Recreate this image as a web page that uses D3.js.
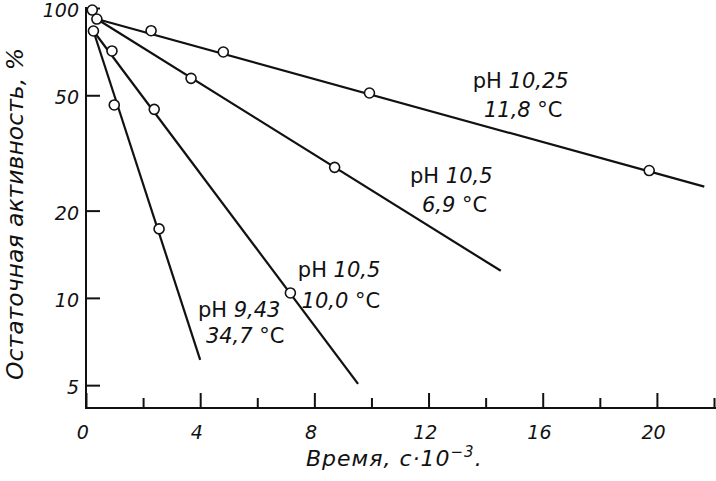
<!DOCTYPE html>
<html><head><meta charset="utf-8">
<script src="https://cdn.jsdelivr.net/npm/d3@7"></script>
<style>
html,body{margin:0;padding:0;background:#fff;}
svg{display:block;}
text{font-family:"DejaVu Sans",sans-serif;fill:#111;}
</style></head><body>
<svg id="chart" width="716" height="481"></svg>
<script>
// ---- data ----
const xTicksMajor = [0, 4, 8, 12, 16, 20];
const xTicksMinor = [2, 6, 10, 14, 18, 22];
const yTicks = [5, 10, 20, 50, 100];

// measured points (time in s*10^-3, residual activity %)
const startPoint = [[0.22, 98.4]];
const pointsA = [[0.38, 91.6], [2.28, 83.5], [4.81, 70.5], [9.93, 50.9], [19.73, 27.5]];
const pointsB = [[3.68, 57.2], [8.71, 28.2]];
const pointsC = [[0.91, 71.1], [2.39, 44.7], [7.16, 10.4]];
const pointsD = [[0.26, 83.3], [0.99, 46.3], [2.56, 17.3]];

// fitted straight lines (start, end)
const lineA = [[0.38, 91.6], [21.66, 24.2]];
const lineB = [[0.38, 91.6], [14.53, 12.4]];
const lineC = [[0.26, 83.3], [9.53, 5.05]];
const lineD = [[0.26, 83.3], [4.0, 6.11]];

// annotations
const labelPH = ["10,25", "10,5", "10,5", "9,43"];
const labelT = ["11,8", "6,9", "10,0", "34,7"];
const labelPos1 = [[13.55, 53.0], [11.35, 24.9], [7.42, 11.8], [3.92, 8.6]];
const labelPos2 = [[13.94, 42.1], [11.77, 19.8], [7.55, 9.24], [4.20, 7.0]];

const yTitle = "Остаточная активность, %";
const xTitle = "Время, с·10";
const xTitleExp = "−3";

// ---- drawing ----
const svg = d3.select("#chart");
const x = d3.scaleLinear().domain([0, 22]).range([86, 714]);
const y = d3.scaleLog().domain([4.17, 100]).range([408, 8]);

const ink = "#111";

// x axis: minor ticks
svg.append("g").attr("transform", "translate(0,408)")
  .call(d3.axisBottom(x).tickValues(xTicksMinor).tickSize(-10).tickSizeOuter(0).tickFormat(""))
  .call(g => g.select(".domain").remove())
  .call(g => g.selectAll("line").attr("stroke", ink).attr("stroke-width", 2));

// x axis: major ticks + labels
svg.append("g").attr("transform", "translate(0,408)")
  .call(d3.axisBottom(x).tickValues(xTicksMajor).tickSize(-15).tickSizeOuter(0).tickPadding(17).tickFormat(d3.format("d")))
  .call(g => g.select(".domain").remove())
  .call(g => g.selectAll("line").attr("stroke", ink).attr("stroke-width", 2))
  .call(g => g.selectAll("text").attr("font-size", 19).attr("font-style", "italic")
      .attr("font-family", "DejaVu Sans Condensed, DejaVu Sans, sans-serif").attr("fill", ink)
      .attr("dx", "-0.2em").attr("dy", "0.75em"));

// y axis
svg.append("g").attr("transform", "translate(86,0)")
  .call(d3.axisLeft(y).tickValues(yTicks).tickSize(-14).tickSizeOuter(0).tickPadding(7).tickFormat(d3.format("d")))
  .call(g => g.select(".domain").remove())
  .call(g => g.selectAll("line").attr("stroke", ink).attr("stroke-width", 2))
  .call(g => g.selectAll("text").attr("font-size", 19).attr("font-style", "italic").attr("fill", ink)
      .attr("dy", "0.45em"));

// axis lines
svg.append("line").attr("x1", x(0)).attr("x2", 716).attr("y1", y(4.17)).attr("y2", y(4.17))
  .attr("stroke", ink).attr("stroke-width", 2);
svg.append("line").attr("x1", x(0)).attr("x2", x(0)).attr("y1", y(100) - 1).attr("y2", y(4.17) + 1)
  .attr("stroke", ink).attr("stroke-width", 2);

// fitted lines
const lineGen = d3.line().x(d => x(d[0])).y(d => y(d[1]));
[lineA, lineB, lineC, lineD].forEach(l => {
  svg.append("path").attr("d", lineGen(l)).attr("fill", "none")
    .attr("stroke", ink).attr("stroke-width", 2.2);
});

// points
[startPoint, pointsA, pointsB, pointsC, pointsD].forEach(p => {
  svg.append("g").selectAll("circle").data(p).join("circle")
    .attr("cx", d => x(d[0])).attr("cy", d => y(d[1])).attr("r", 5)
    .attr("fill", "#fff").attr("stroke", ink).attr("stroke-width", 1.6);
});

// annotations
labelPH.forEach((ph, i) => {
  const t1 = svg.append("text").attr("x", x(labelPos1[i][0])).attr("y", y(labelPos1[i][1]))
    .attr("font-size", 21);
  t1.append("tspan").text("pH ");
  t1.append("tspan").attr("font-style", "italic").text(ph);
  const t2 = svg.append("text").attr("x", x(labelPos2[i][0])).attr("y", y(labelPos2[i][1]))
    .attr("font-size", 21);
  t2.append("tspan").attr("font-style", "italic").text(labelT[i]);
  t2.append("tspan").text(" °C");
});

// axis titles
svg.append("text").attr("transform", "translate(23,214) rotate(-90)")
  .attr("text-anchor", "middle").attr("font-size", 23).attr("font-style", "italic")
  .attr("textLength", 332).attr("lengthAdjust", "spacingAndGlyphs")
  .text(yTitle);

const xt = svg.append("text").attr("x", 306).attr("y", 466)
  .attr("font-size", 22).attr("font-style", "italic").attr("letter-spacing", 1);
xt.append("tspan").text(xTitle);
xt.append("tspan").attr("dy", -9).attr("font-size", 15).text(xTitleExp);
xt.append("tspan").attr("dy", 9).text(".");
</script>
</body></html>
